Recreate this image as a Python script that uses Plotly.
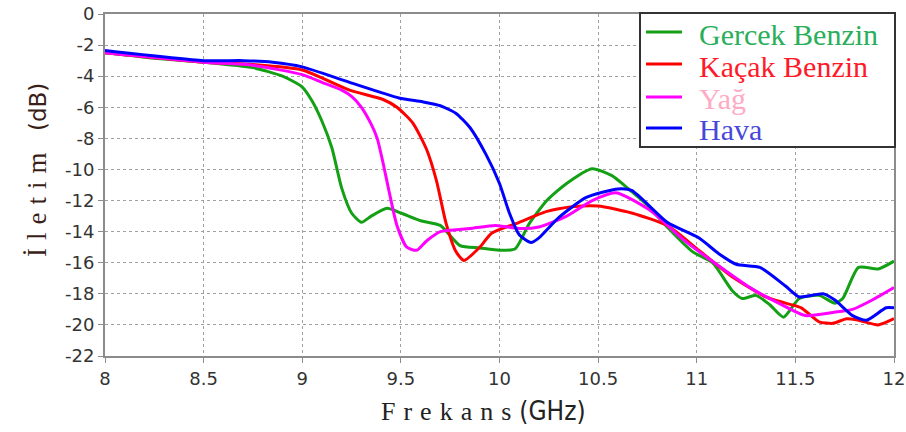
import plotly.graph_objects as go

# ---------------- data ----------------
series_names = ["Gercek Benzin", "Kaçak Benzin", "Yağ", "Hava"]

gercek_x = [8.0, 8.25, 8.5, 8.75, 8.9, 9.0, 9.05, 9.1, 9.15, 9.2, 9.25, 9.3, 9.35, 9.43, 9.5, 9.6,
            9.7, 9.8, 9.9, 10.0, 10.08, 10.15, 10.24, 10.34, 10.47, 10.57, 10.64, 10.75, 10.85,
            10.98, 11.08, 11.18, 11.23, 11.3, 11.37, 11.44, 11.52, 11.62, 11.7, 11.74, 11.82,
            11.92, 12.0]
gercek_y = [-2.5, -2.85, -3.1, -3.45, -4.0, -4.7, -5.6, -6.9, -8.6, -11.2, -12.8, -13.4, -13.0,
            -12.5, -12.8, -13.3, -13.6, -14.9, -15.05, -15.2, -15.1, -13.5, -12.0, -10.9, -9.95,
            -10.4, -11.1, -12.3, -13.7, -15.3, -16.0, -17.8, -18.3, -18.1, -18.7, -19.5, -18.3,
            -18.1, -18.6, -18.3, -16.3, -16.4, -15.9]

kacak_x = [8.0, 8.5, 8.75, 9.0, 9.24, 9.41, 9.48, 9.56, 9.63, 9.68, 9.73, 9.78, 9.82, 9.9, 9.96,
           10.1, 10.24, 10.37, 10.5, 10.67, 10.85, 11.01, 11.18, 11.35, 11.45, 11.53, 11.62, 11.69,
           11.76, 11.82, 11.92, 12.0]
kacak_y = [-2.5, -3.1, -3.25, -3.6, -4.9, -5.5, -6.0, -7.0, -8.7, -10.7, -13.5, -15.3, -15.85,
           -15.0, -14.1, -13.4, -12.7, -12.4, -12.35, -12.8, -13.6, -15.2, -16.9, -18.2, -18.6,
           -18.9, -19.8, -19.9, -19.6, -19.7, -20.0, -19.6]

yag_x = [8.0, 8.5, 8.75, 9.0, 9.1, 9.2, 9.25, 9.3, 9.35, 9.38, 9.41, 9.44, 9.48, 9.53, 9.58, 9.63,
         9.7, 9.85, 9.98, 10.1, 10.2, 10.34, 10.47, 10.59, 10.76, 10.93, 11.1, 11.27, 11.43, 11.55,
         11.69, 11.79, 11.89, 12.0]
yag_y = [-2.5, -3.1, -3.3, -3.9, -4.4, -4.9, -5.3, -6.0, -7.1, -8.0, -9.6, -11.4, -13.6, -15.0,
         -15.2, -14.6, -14.0, -13.8, -13.6, -13.8, -13.7, -13.0, -12.0, -11.5, -12.6, -14.5,
         -16.1, -17.6, -18.7, -19.4, -19.2, -19.0, -18.4, -17.6]

hava_x = [8.0, 8.5, 8.7, 8.85, 9.0, 9.24, 9.49, 9.61, 9.7, 9.78, 9.85, 9.93, 10.0, 10.05, 10.1,
          10.16, 10.2, 10.3, 10.44, 10.6, 10.67, 10.85, 11.01, 11.11, 11.2, 11.32, 11.45, 11.52,
          11.64, 11.7, 11.79, 11.86, 11.96, 12.0]
hava_y = [-2.35, -3.0, -3.0, -3.1, -3.4, -4.4, -5.4, -5.65, -5.9, -6.4, -7.3, -9.0, -10.9, -12.8,
          -14.2, -14.7, -14.4, -13.1, -11.8, -11.25, -11.35, -13.4, -14.4, -15.4, -16.1, -16.3,
          -17.5, -18.2, -18.0, -18.4, -19.4, -19.7, -18.9, -18.9]

x_tick_vals = [8, 8.5, 9, 9.5, 10, 10.5, 11, 11.5, 12]
x_tick_text = ["8", "8.5", "9", "9.5", "10", "10.5", "11", "11.5", "12"]
y_tick_vals = [0, -2, -4, -6, -8, -10, -12, -14, -16, -18, -20, -22]
y_tick_text = ["0", "-2", "-4", "-6", "-8", "-10", "-12", "-14", "-16", "-18", "-20", "-22"]

# ---------------- styles ----------------
line_colors = ["#14a014", "#ff0000", "#ff00ff", "#0000ff"]
legend_text_colors = ["#2aae5a", "#ff1a2a", "#ffaac4", "#4848d8"]
SERIF = "Liberation Serif, Times New Roman, DejaVu Serif, serif"

W, H = 906, 432
ML, MR, MT, MB = 105, 12, 14, 76
PW, PH = W - ML - MR, H - MT - MB


def px(xp):
    return (xp - ML) / PW


def py(yp):
    return (H - MB - yp) / PH


fig = go.Figure()
data = [(gercek_x, gercek_y), (kacak_x, kacak_y), (yag_x, yag_y), (hava_x, hava_y)]
for (xs, ys), name, col in zip(data, series_names, line_colors):
    fig.add_trace(go.Scatter(x=xs, y=ys, mode="lines", name=name,
                             line=dict(color=col, width=3, shape="spline", smoothing=0.6),
                             showlegend=False))

axis_common = dict(showgrid=True, gridcolor="#a0a0a0", griddash="dot", gridwidth=1,
                   showline=True, linecolor="#8c8c8c", linewidth=2, mirror=True,
                   ticks="outside", ticklen=5, tickcolor="#8c8c8c", zeroline=False,
                   automargin=False,
                   tickfont=dict(family="DejaVu Sans", size=18, color="#333333"))

fig.update_xaxes(range=[8, 12], tickvals=x_tick_vals, ticktext=x_tick_text, **axis_common)
fig.update_yaxes(range=[-22, 0], tickvals=y_tick_vals, ticktext=y_tick_text, **axis_common)

shapes = []
annotations = []

# legend box
shapes.append(dict(type="rect", xref="paper", yref="paper",
                   x0=px(640), x1=px(895), y0=py(147), y1=py(13),
                   line=dict(color="#333333", width=2), fillcolor="white", layer="above"))
row_line_y = [32, 64, 97, 128]
row_text_y = [34, 67, 98, 129]
for i, name in enumerate(series_names):
    shapes.append(dict(type="line", xref="paper", yref="paper",
                       x0=px(646), x1=px(682), y0=py(row_line_y[i]), y1=py(row_line_y[i]),
                       line=dict(color=line_colors[i], width=3), layer="above"))
    annotations.append(dict(xref="paper", yref="paper", x=px(697), y=py(row_text_y[i]),
                            xanchor="left", yanchor="middle", showarrow=False, text=name,
                            font=dict(family=SERIF, size=30, color=legend_text_colors[i])))

# axis titles
annotations.append(dict(xref="paper", yref="paper", x=px(483), y=py(411),
                        xanchor="center", yanchor="middle", showarrow=False,
                        text='<span style="font-family:Liberation Serif,Times New Roman,serif;letter-spacing:8px">Frekans</span>'
                             '<span style="font-family:Liberation Sans Narrow,DejaVu Sans Condensed,sans-serif">(GHz)</span>',
                        font=dict(family=SERIF, size=26, color="#222222")))
annotations.append(dict(xref="paper", yref="paper", x=px(37), y=py(170),
                        xanchor="center", yanchor="middle", showarrow=False, textangle=-90,
                        text='<span style="font-family:Liberation Serif,Times New Roman,serif;letter-spacing:8px">İletim</span>'
                             '&nbsp;&nbsp;<span style="font-family:DejaVu Sans,sans-serif;font-size:23px">(dB)</span>',
                        font=dict(family=SERIF, size=27, color="#3a1e18")))

fig.update_layout(width=W, height=H, margin=dict(l=ML, r=MR, t=MT, b=MB, autoexpand=False),
                  plot_bgcolor="white", paper_bgcolor="white",
                  shapes=shapes, annotations=annotations, showlegend=False)

fig.write_html("out.html")
